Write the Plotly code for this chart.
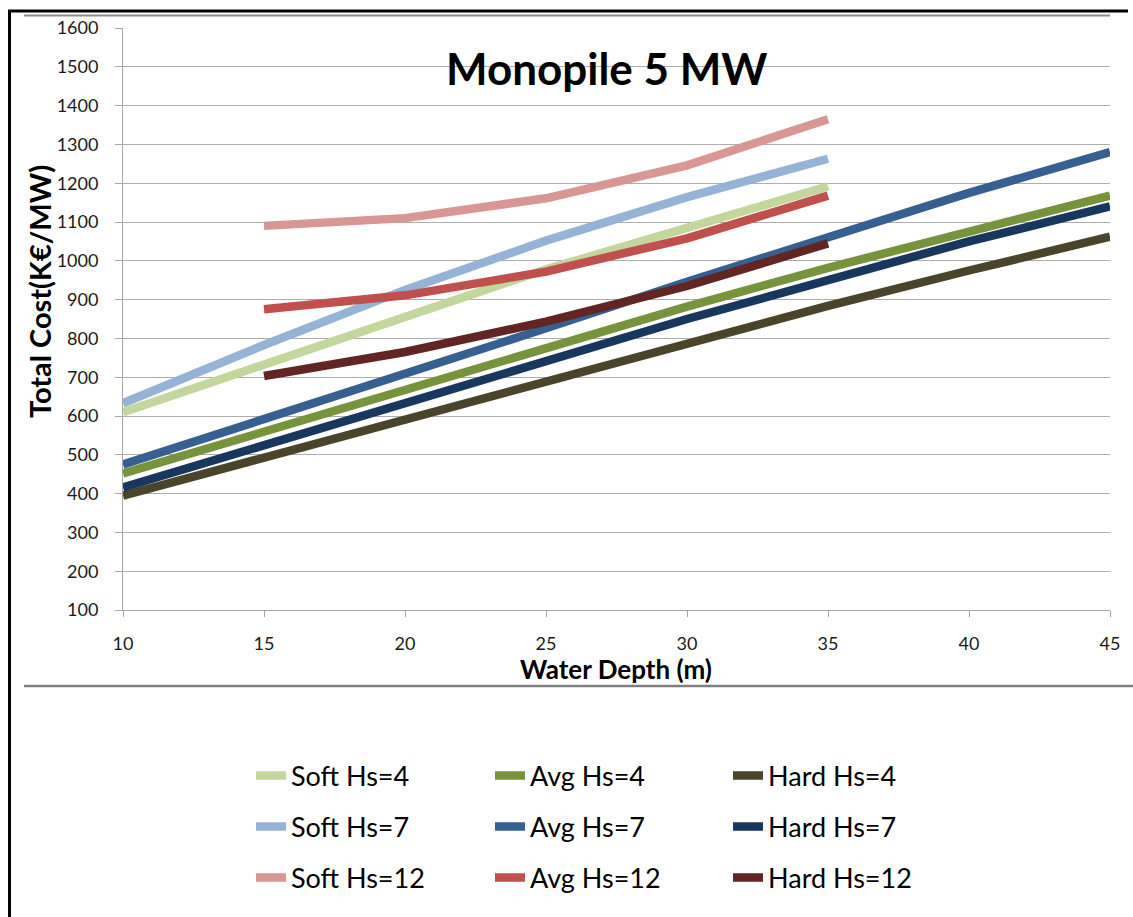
import plotly.graph_objects as go

# ---------------- data ----------------
depth_full = [10, 15, 20, 25, 30, 35, 40, 45]
depth_soft = [10, 15, 20, 25, 30, 35]
depth_hs12 = [15, 20, 25, 30, 35]

soft_hs4 = [610, 733, 856, 978, 1085, 1192]
avg_hs4 = [452, 560, 668, 776, 882, 982, 1075, 1168]
hard_hs4 = [395, 493, 590, 688, 786, 884, 975, 1062]

soft_hs7 = [633, 783, 925, 1052, 1164, 1263]
avg_hs7 = [475, 591, 706, 826, 946, 1062, 1175, 1280]
hard_hs7 = [416, 525, 635, 742, 850, 950, 1050, 1140]

soft_hs12 = [1090, 1110, 1161, 1246, 1365]
avg_hs12 = [875, 911, 972, 1058, 1168]
hard_hs12 = [703, 765, 843, 935, 1045]

series_names = ["Soft Hs=4", "Avg Hs=4", "Hard Hs=4",
                "Soft Hs=7", "Avg Hs=7", "Hard Hs=7",
                "Soft Hs=12", "Avg Hs=12", "Hard Hs=12"]
series_x = [depth_soft, depth_full, depth_full,
            depth_soft, depth_full, depth_full,
            depth_hs12, depth_hs12, depth_hs12]
series_y = [soft_hs4, avg_hs4, hard_hs4,
            soft_hs7, avg_hs7, hard_hs7,
            soft_hs12, avg_hs12, hard_hs12]
series_colors = ["#C3D69B", "#77933C", "#4A452A",
                 "#95B3D7", "#376092", "#17375E",
                 "#D99694", "#C0504D", "#632523"]

y_ticks = list(range(100, 1700, 100))
x_ticks = [10, 15, 20, 25, 30, 35, 40, 45]

# ---------------- layout geometry ----------------
W, H = 1133, 917
L, R, T, B = 123, 23, 28, 307
PW, PH = W - L - R, H - T - B
FONT = "Lato, 'Open Sans', sans-serif"


def px(xp):
    return (xp - L) / PW


def py(yp):
    return 1 - (yp - T) / PH


def cx(xp):
    return xp / W


def cy(yp):
    return 1 - yp / H


fig = go.Figure()

legend_cols = [251, 490, 728]
legend_rows = [776, 827, 878]

for i, (name, xs, ys, col) in enumerate(zip(series_names, series_x, series_y, series_colors)):
    lname = "legend" if i == 0 else f"legend{i + 1}"
    fig.add_trace(go.Scatter(
        x=xs, y=ys, mode="lines", name=name,
        line=dict(color=col, width=8.5),
        legend=lname,
    ))
    r, c = divmod(i, 3)
    fig.layout[lname] = dict(
        x=cx(legend_cols[c]), y=cy(legend_rows[r]),
        xref="container", yref="container",
        xanchor="left", yanchor="middle",
        font=dict(family=FONT, size=27, color="#000000"),
        bgcolor="rgba(0,0,0,0)", borderwidth=0,
        itemwidth=30,
    )

fig.update_layout(
    width=W, height=H,
    margin=dict(l=L, r=R, t=T, b=B, autoexpand=False),
    paper_bgcolor="white", plot_bgcolor="white",
    showlegend=True,
    font=dict(family=FONT, color="#000000"),
)

fig.update_xaxes(
    range=[10, 45], tickvals=x_ticks, ticktext=[str(v) for v in x_ticks],
    showgrid=False, zeroline=False,
    showline=True, linecolor="#A6A6A6", linewidth=1,
    ticks="outside", ticklen=6, tickcolor="#A6A6A6",
    tickfont=dict(family=FONT, size=18, color="#1a1a1a"),
    ticklabelstandoff=11,
)
fig.update_yaxes(
    range=[100, 1600], tickvals=y_ticks, ticktext=[str(v) for v in y_ticks],
    showgrid=True, gridcolor="#ADADAD", gridwidth=1,
    zeroline=False,
    showline=True, linecolor="#A6A6A6", linewidth=1,
    ticks="outside", ticklen=7, tickcolor="#A6A6A6",
    tickfont=dict(family=FONT, size=18, color="#1a1a1a"),
    ticklabelstandoff=13,
)

# Titles
fig.add_annotation(text="<b>Monopile 5 MW</b>", x=px(607), y=py(68),
                   xref="paper", yref="paper", showarrow=False,
                   font=dict(family=FONT, size=44, color="#000000"),
                   xanchor="center", yanchor="middle")
fig.add_annotation(text="<b>Water Depth (m)</b>", x=px(616), y=py(669),
                   xref="paper", yref="paper", showarrow=False,
                   font=dict(family=FONT, size=26, color="#000000"),
                   xanchor="center", yanchor="middle")
fig.add_annotation(text="<b>Total Cost(K€/MW)</b>", x=px(40), y=py(292),
                   xref="paper", yref="paper", showarrow=False, textangle=-90,
                   font=dict(family=FONT, size=29, color="#000000"),
                   xanchor="center", yanchor="middle")

# Frame lines
fig.add_shape(type="line", xref="paper", yref="paper",
              x0=px(9.5), x1=px(9.5), y0=py(10), y1=py(917),
              line=dict(color="#000000", width=3))
fig.add_shape(type="line", xref="paper", yref="paper",
              x0=px(8), x1=px(1128), y0=py(11), y1=py(11),
              line=dict(color="#000000", width=3))
fig.add_shape(type="line", xref="paper", yref="paper",
              x0=px(24), x1=px(1110), y0=py(15.5), y1=py(15.5),
              line=dict(color="#8C8C8C", width=2))
fig.add_shape(type="line", xref="paper", yref="paper",
              x0=px(24), x1=px(1133), y0=py(686), y1=py(686),
              line=dict(color="#808080", width=2.5))

fig.write_html("out.html")
